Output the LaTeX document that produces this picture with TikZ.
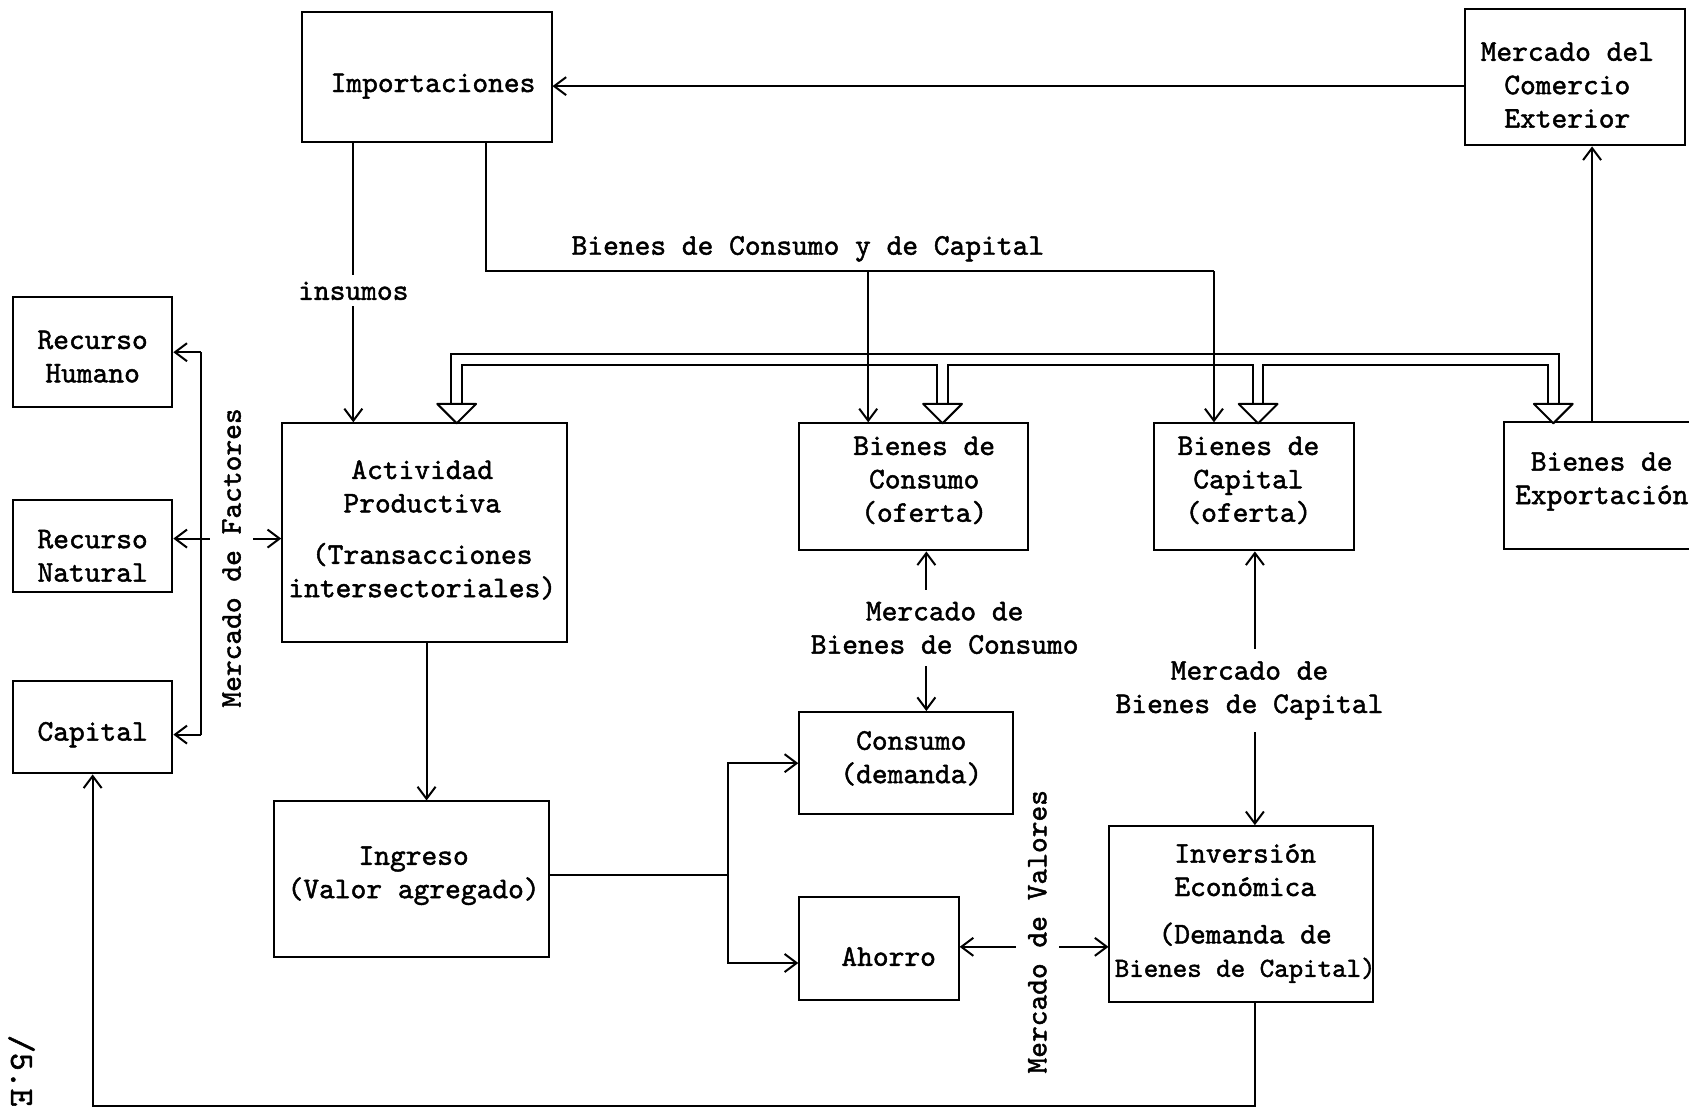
\documentclass[tikz,border=0pt]{standalone}
\usepackage{fontspec}
\newfontfamily\twfont{lmmono10-regular.otf}[FakeBold=1.5]
\newcommand\diagfont{\twfont\fontsize{15pt}{16.7pt}\selectfont}
\usetikzlibrary{arrows.meta,fit,calc}

\tikzset{
  box/.style={draw, line width=1pt, inner sep=0pt},
  txt/.style={inner sep=0pt, align=center, font=\diagfont},
  lbl/.style={inner sep=6pt, align=center, font=\diagfont},
  vlbl/.style={inner sep=6pt, rotate=90, font=\diagfont},
  conn/.style={line width=1pt},
  arr/.style={conn, -{Straight Barb[length=6pt,width=9pt]}},
  feed/.style={line width=1pt, double=white, double distance=4.3pt},
  hollowtip/.pic={\draw[conn, fill=white, line join=round] (-18,0) -- (18,0) -- (0,18) -- cycle;}
}

\begin{document}
\begin{tikzpicture}[x=0.5386pt, y=-0.5386pt]
\useasboundingbox (0,0) rectangle (1568,1030);
\fill[white] (0,0) rectangle (1568,1030);
\clip (0,0) rectangle (1568,1030);

% boxes
\node[box, fit={(280,11) (512,132)}] (imp) {};
\node[box, fit={(1360,8) (1564,135)}] (mce) {};
\node[box, fit={(12,276) (160,378)}] (rh) {};
\node[box, fit={(12,464) (160,550)}] (rn) {};
\node[box, fit={(12,632) (160,718)}] (cap) {};
\node[box, fit={(262,393) (526,596)}] (act) {};
\node[box, fit={(742,393) (954,511)}] (bc) {};
\node[box, fit={(1071,393) (1257,511)}] (bk) {};
\node[box, fit={(1396,392) (1580,510)}] (be) {};
\node[box, fit={(742,661) (940,756)}] (cons) {};
\node[box, fit={(254,744) (510,888)}] (ing) {};
\node[box, fit={(742,833) (890,928)}] (aho) {};
\node[box, fit={(1030,767) (1275,930)}] (inv) {};

% box texts
\node[txt] (imp-t) at (402,80) {Importaciones};
\node[txt] (mce-t) at (1455,79) {Mercado del\\Comercio\\Exterior};
\node[txt] (rh-t) at (86,331) {Recurso\\Humano};
\node[txt] (rn-t) at (86,516) {Recurso\\Natural};
\node[txt] (cap-t) at (86,682) {Capital};
\node[txt] (act-t) at (392,492) {Actividad\\Productiva\\[9pt](Transacciones\\intersectoriales)};
\node[txt] (bc-t) at (858,446) {Bienes de\\Consumo\\(oferta)};
\node[txt] (bk-t) at (1159,446) {Bienes de\\Capital\\(oferta)};
\node[txt] (be-t) at (1487,447) {Bienes de\\Exportación};
\node[txt] (cons-t) at (846,704) {Consumo\\(demanda)};
\node[txt] (ing-t) at (384,813) {Ingreso\\(Valor agregado)};
\node[txt] (aho-t) at (825,888) {Ahorro};
\node[txt] (inv-t) at (1156,848) {Inversión\\Económica\\[7pt](Demanda de\\{\fontsize{13.8pt}{16.7pt}\selectfont Bienes de Capital)}};

% labels on the flows
\node[lbl, inner sep=3pt] (ins) at (328,270) {insumos};
\node[lbl, inner sep=2pt] (bcc) at (750,231) {Bienes de Consumo y de Capital};
\node[lbl] (mbc) at (877,583) {Mercado de\\Bienes de Consumo};
\node[lbl] (mbk) at (1160,641) {Mercado de\\Bienes de Capital};
\node[vlbl] (mf) at (215,518) {Mercado de Factores};
\node[vlbl] (mv) at (963,865) {Mercado de Valores};
\node[font=\twfont\fontsize{17pt}{18pt}\selectfont, rotate=-90, inner sep=0pt] (pg) at (20,994) {/5.E};

% column and row positions of the flows
\coordinate (cIns) at (328,0);
\coordinate (cBcc) at (451,252);
\coordinate (cBc) at (806,0);
\coordinate (cBk) at (1127,0);
\coordinate (cMbc) at (860,0);
\coordinate (cMbk) at (1165,0);
\coordinate (cExp) at (1478,0);
\coordinate (cFac) at (187,0);
\coordinate (cAi) at (396,0);
\coordinate (cSplit) at (676,812);
\coordinate (cBot) at (0,1027);
\coordinate (rImp) at (0,80);
\coordinate (rNat) at (0,500);
\coordinate (rCap) at (0,682);
\coordinate (rAho) at (0,894);
\coordinate (rVal) at (0,879);

% supply network (double lines with hollow heads)
\draw[feed] (424,375) -- (424,334) -- (1442,334) -- (1442,375)
            (875,334) -- (875,375) (1168,334) -- (1168,375);
\pic at (424,375) {hollowtip};
\pic at (875,375) {hollowtip};
\pic at (1168,375) {hollowtip};
\pic at (1442,375) {hollowtip};

% foreign trade
\draw[arr] (mce.west |- rImp) -- (imp.east |- rImp);
\draw[arr] (be.north -| cExp) -- (mce.south -| cExp);

% imports
\draw[conn] (imp.south -| cIns) -- (ins.north);
\draw[arr] (ins.south) -- (act.north -| cIns);
\draw[conn] (imp.south -| cBcc) -- (cBcc) -- (cBcc -| cBk);
\draw[arr] (cBcc -| cBk) -- (bk.north -| cBk);
\draw[arr] (cBcc -| cBc) -- (bc.north -| cBc);

% factor market
\draw[conn] (cFac |- rh.east) -- (cFac |- rCap);
\draw[arr] (cFac |- rh.east) -- (rh.east);
\draw[arr] (cFac |- rNat) -- (rn.east |- rNat);
\draw[arr] (cFac |- rCap) -- (cap.east |- rCap);
\draw[conn] (cFac |- rNat) -- ++(8,0);
\draw[arr] (mf.south |- rNat) -- (act.west |- rNat);

% income and its uses
\draw[arr] (act.south -| cAi) -- (ing.north -| cAi);
\draw[conn] (ing.east |- cSplit) -- (cSplit);
\draw[arr] (cSplit) -- (cSplit |- cons.west) -- (cons.west);
\draw[arr] (cSplit) -- (cSplit |- rAho) -- (aho.west |- rAho);

% goods markets
\draw[arr] (mbc.north -| cMbc) -- (bc.south -| cMbc);
\draw[arr] (mbc.south -| cMbc) -- (cons.north -| cMbc);
\draw[arr] (mbk.north -| cMbk) -- (bk.south -| cMbk);
\draw[arr] (mbk.south -| cMbk) -- (inv.north -| cMbk);

% securities market
\draw[arr] (mv.north |- rVal) -- (aho.east |- rVal);
\draw[arr] (mv.south |- rVal) -- (inv.west |- rVal);

% investment returns to capital
\draw[arr] (inv.south -| cMbk) -- (cMbk |- cBot) -- (cap.south |- cBot) -- (cap.south);
\end{tikzpicture}
\end{document}
